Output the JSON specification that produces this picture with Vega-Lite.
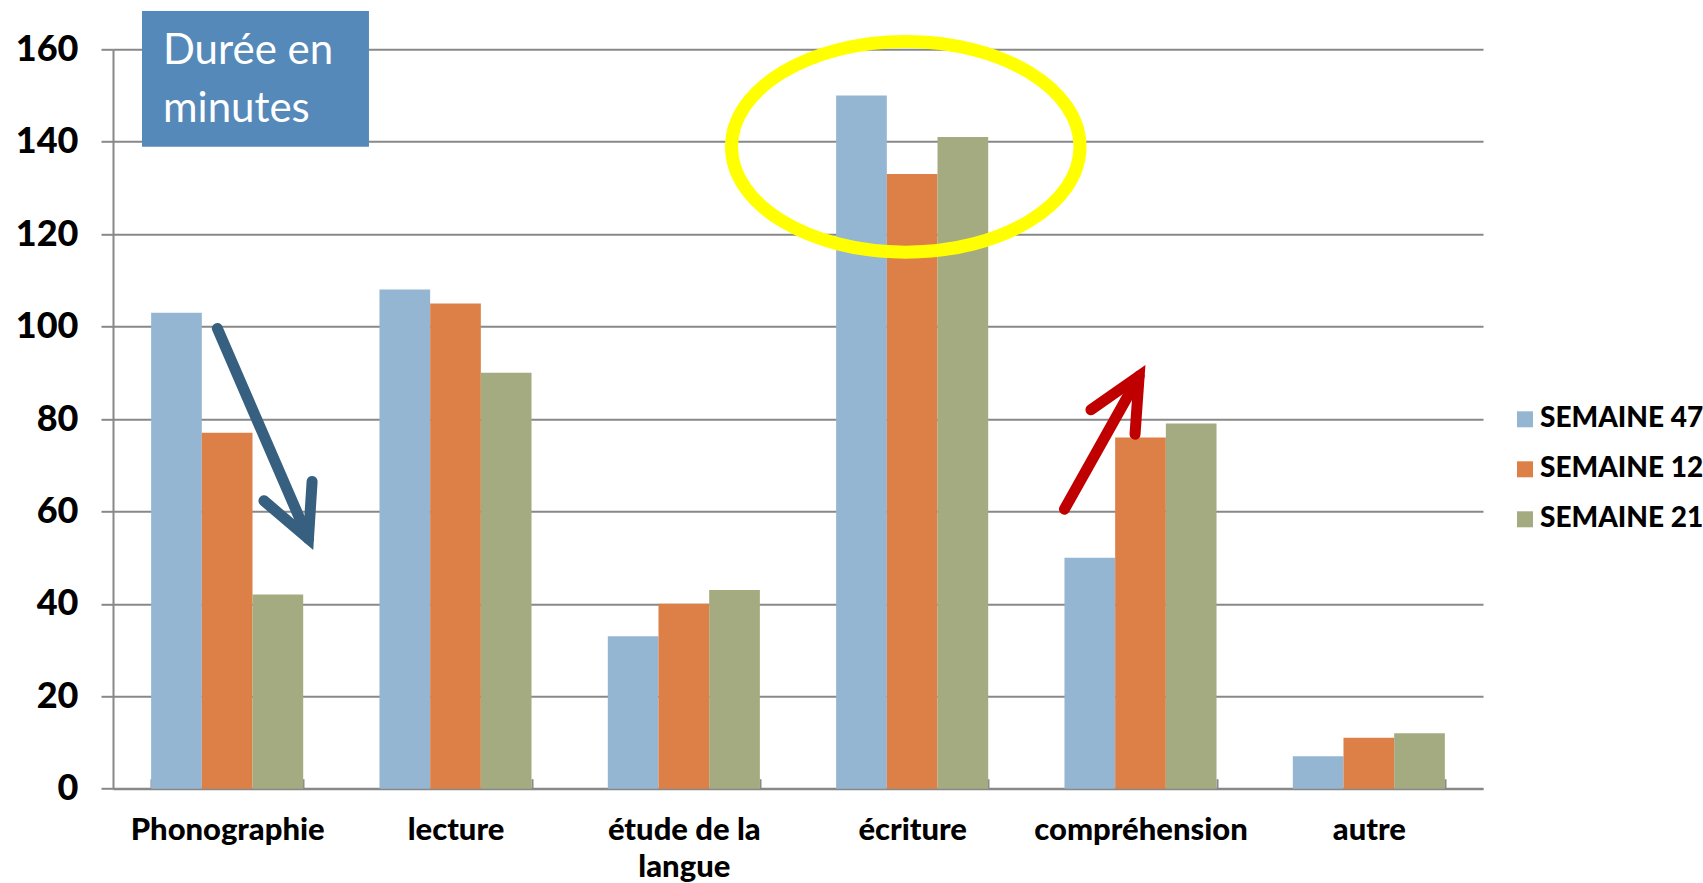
{
  "$schema": "https://vega.github.io/schema/vega-lite/v6.json",
  "width": 1370,
  "height": 739.4,
  "autosize": {"type": "none"},
  "padding": {"left": 113, "top": 49.3, "right": 220, "bottom": 94.3},
  "background": "white",
  "config": {"view": {"stroke": null}, "font": "Lato"},
  "datasets": {
    "bars": [
      {"cat": "Phonographie", "s": "SEMAINE 47", "v": 103},
      {"cat": "Phonographie", "s": "SEMAINE 12", "v": 77},
      {"cat": "Phonographie", "s": "SEMAINE 21", "v": 42},
      {"cat": "lecture", "s": "SEMAINE 47", "v": 108},
      {"cat": "lecture", "s": "SEMAINE 12", "v": 105},
      {"cat": "lecture", "s": "SEMAINE 21", "v": 90},
      {"cat": "étude de la langue", "s": "SEMAINE 47", "v": 33},
      {"cat": "étude de la langue", "s": "SEMAINE 12", "v": 40},
      {"cat": "étude de la langue", "s": "SEMAINE 21", "v": 43},
      {"cat": "écriture", "s": "SEMAINE 47", "v": 150},
      {"cat": "écriture", "s": "SEMAINE 12", "v": 133},
      {"cat": "écriture", "s": "SEMAINE 21", "v": 141},
      {"cat": "compréhension", "s": "SEMAINE 47", "v": 50},
      {"cat": "compréhension", "s": "SEMAINE 12", "v": 76},
      {"cat": "compréhension", "s": "SEMAINE 21", "v": 79},
      {"cat": "autre", "s": "SEMAINE 47", "v": 7},
      {"cat": "autre", "s": "SEMAINE 12", "v": 11},
      {"cat": "autre", "s": "SEMAINE 21", "v": 12}
    ],
    "box": [{"x": 0.127, "x2": 1.121, "v": 138.9, "v2": 168.3, "t": "Durée en\nminutes", "tx": 0.219, "tv": 159.6}],
    "ellipse": [{"x": 3.472, "v": 138.9}],
    "arrows": [
      {"arrow": "blue", "part": "shaft", "seq": 0, "x": 0.457, "v": 99.6},
      {"arrow": "blue", "part": "shaft", "seq": 1, "x": 0.856, "v": 54.1},
      {"arrow": "blue", "part": "head", "seq": 0, "x": 0.661, "v": 62.3},
      {"arrow": "blue", "part": "head", "seq": 1, "x": 0.856, "v": 54.1},
      {"arrow": "blue", "part": "head", "seq": 2, "x": 0.872, "v": 66.5},
      {"arrow": "red", "part": "shaft", "seq": 0, "x": 4.167, "v": 60.5},
      {"arrow": "red", "part": "shaft", "seq": 1, "x": 4.494, "v": 89.3},
      {"arrow": "red", "part": "head", "seq": 0, "x": 4.283, "v": 82.0},
      {"arrow": "red", "part": "head", "seq": 1, "x": 4.494, "v": 89.3},
      {"arrow": "red", "part": "head", "seq": 2, "x": 4.476, "v": 76.7}
    ]
  },
  "layer": [
    {
      "data": {"name": "bars"},
      "mark": {"type": "bar"},
      "encoding": {
        "x": {
          "field": "cat", "type": "nominal", "sort": null,
          "scale": {"domain": ["Phonographie", "lecture", "étude de la langue", "écriture", "compréhension", "autre"], "paddingInner": 0.334, "paddingOuter": 0.167},
          "axis": {
            "title": null, "labelAngle": 0, "labelFontSize": 31, "labelFontWeight": 900, "labelColor": "black",
            "labelExpr": "datum.value == 'étude de la langue' ? ['étude de la', 'langue'] : datum.value",
            "labelLineHeight": 37, "labelPadding": 37, "labelLimit": 400,
            "tickBand": "extent", "tickSize": -10, "tickColor": "#888888", "tickWidth": 2,
            "domainColor": "#888888", "domainWidth": 2, "grid": false
          }
        },
        "xOffset": {"field": "s", "type": "nominal", "sort": ["SEMAINE 47", "SEMAINE 12", "SEMAINE 21"], "scale": {"paddingInner": 0, "paddingOuter": 0}},
        "y": {
          "field": "v", "type": "quantitative",
          "scale": {"domain": [0, 160], "nice": false},
          "axis": {
            "title": null, "values": [0, 20, 40, 60, 80, 100, 120, 140, 160],
            "grid": true, "gridColor": "#888888", "gridWidth": 2, "gridOpacity": 1,
            "tickSize": 12, "tickColor": "#888888", "tickWidth": 2,
            "domainColor": "#888888", "domainWidth": 2,
            "labelFontSize": 36, "labelFontWeight": 900, "labelColor": "black", "labelPadding": 23
          }
        },
        "color": {
          "field": "s", "type": "nominal", "sort": ["SEMAINE 47", "SEMAINE 12", "SEMAINE 21"],
          "scale": {"domain": ["SEMAINE 47", "SEMAINE 12", "SEMAINE 21"], "range": ["#94B6D2", "#DD8047", "#A5AB81"]},
          "legend": {
            "orient": "none", "legendX": 1398, "legendY": 356, "title": null,
            "symbolType": "square", "symbolSize": 256, "symbolStrokeWidth": 0,
            "labelFontSize": 28, "labelFontWeight": 900, "labelColor": "black", "labelLimit": 400,
            "labelOffset": 1, "rowPadding": 22, "padding": 0
          }
        }
      }
    },
    {
      "data": {"name": "box"},
      "mark": {"type": "rect", "color": "#5589B9"},
      "encoding": {
        "x": {"field": "x", "type": "quantitative", "scale": {"domain": [0, 6], "nice": false, "zero": false}, "axis": null},
        "x2": {"field": "x2"},
        "y": {"field": "v", "type": "quantitative", "axis": {"title": null}},
        "y2": {"field": "v2"}
      }
    },
    {
      "data": {"name": "box"},
      "mark": {"type": "text", "color": "white", "fontSize": 42, "align": "left", "baseline": "middle", "lineBreak": "\n", "lineHeight": 58},
      "encoding": {
        "x": {"field": "tx", "type": "quantitative", "scale": {"domain": [0, 6], "nice": false, "zero": false}, "axis": null},
        "y": {"field": "tv", "type": "quantitative", "axis": {"title": null}},
        "text": {"field": "t"}
      }
    },
    {
      "data": {"name": "ellipse"},
      "mark": {"type": "point", "filled": false, "opacity": 1, "stroke": "#FFFF00", "strokeWidth": 13, "size": 121452,
        "shape": "M -1 0 C -1 -0.334 -0.552 -0.6046 0 -0.6046 C 0.552 -0.6046 1 -0.334 1 0 C 1 0.334 0.552 0.6046 0 0.6046 C -0.552 0.6046 -1 0.334 -1 0 Z"},
      "encoding": {
        "x": {"field": "x", "type": "quantitative", "scale": {"domain": [0, 6], "nice": false, "zero": false}, "axis": null},
        "y": {"field": "v", "type": "quantitative", "axis": {"title": null}}
      }
    },
    {
      "data": {"name": "arrows"},
      "transform": [{"filter": "datum.arrow == 'blue'"}],
      "mark": {"type": "line", "color": "#365F80", "strokeWidth": 11, "strokeCap": "round", "strokeJoin": "miter"},
      "encoding": {
        "x": {"field": "x", "type": "quantitative", "scale": {"domain": [0, 6], "nice": false, "zero": false}, "axis": null},
        "y": {"field": "v", "type": "quantitative", "axis": {"title": null}},
        "detail": {"field": "part"},
        "order": {"field": "seq"}
      }
    },
    {
      "data": {"name": "arrows"},
      "transform": [{"filter": "datum.arrow == 'red'"}],
      "mark": {"type": "line", "color": "#C00000", "strokeWidth": 11, "strokeCap": "round", "strokeJoin": "miter"},
      "encoding": {
        "x": {"field": "x", "type": "quantitative", "scale": {"domain": [0, 6], "nice": false, "zero": false}, "axis": null},
        "y": {"field": "v", "type": "quantitative", "axis": {"title": null}},
        "detail": {"field": "part"},
        "order": {"field": "seq"}
      }
    }
  ],
  "resolve": {"scale": {"x": "independent"}}
}
